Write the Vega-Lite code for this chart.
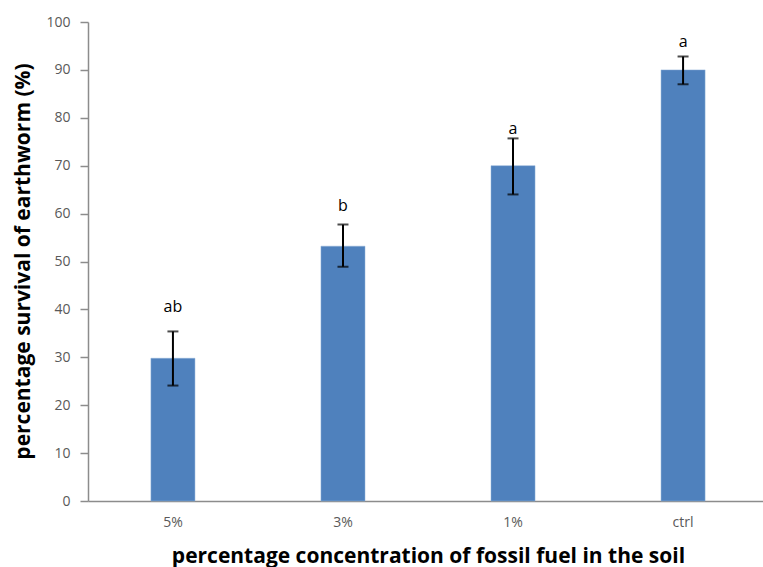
{
  "$schema": "https://vega.github.io/schema/vega-lite/v6.json",
  "autosize": {"type": "none"},
  "padding": {"left": 88, "top": 22, "right": 0, "bottom": 66},
  "width": 680,
  "height": 479,
  "background": "white",
  "config": {"view": {"stroke": null}},
  "data": {"values": [
    {"treatment": "5%", "survival": 29.8, "lo": 24.1, "hi": 35.4, "letter": "ab", "letter_at": 40.6},
    {"treatment": "3%", "survival": 53.2, "lo": 48.9, "hi": 57.7, "letter": "b", "letter_at": 61.5},
    {"treatment": "1%", "survival": 70.0, "lo": 64.0, "hi": 75.7, "letter": "a", "letter_at": 77.6},
    {"treatment": "ctrl", "survival": 90.0, "lo": 87.0, "hi": 92.8, "letter": "a", "letter_at": 95.8}
  ]},
  "encoding": {
    "x": {
      "field": "treatment", "type": "nominal", "sort": null,
      "scale": {"paddingInner": 0.741, "paddingOuter": 0.37},
      "axis": {
        "title": "percentage concentration of fossil fuel in the soil",
        "titleFont": "Open Sans", "titleFontSize": 21, "titleFontWeight": "bold", "titleColor": "#000000",
        "titleY": 55, "titleBaseline": "middle",
        "labelAngle": 0, "labelFont": "Open Sans", "labelFontSize": 14, "labelColor": "#595959",
        "labelPadding": 14, "ticks": false, "domainColor": "#8c8c8c", "domainWidth": 1.5, "grid": false
      }
    }
  },
  "layer": [
    {
      "mark": {"type": "bar", "color": "#4F81BD", "stroke": "#8fb0d8", "strokeWidth": 0.5},
      "encoding": {
        "y": {
          "field": "survival", "type": "quantitative",
          "scale": {"domain": [0, 100], "nice": false},
          "axis": {
            "title": "percentage survival of earthworm (%)",
            "titleFont": "Open Sans", "titleFontSize": 21, "titleFontWeight": "bold", "titleColor": "#000000",
            "titleX": -65, "titleY": 239, "titleAlign": "center", "titleBaseline": "middle",
            "values": [0, 10, 20, 30, 40, 50, 60, 70, 80, 90, 100],
            "labelFont": "Open Sans", "labelFontSize": 14, "labelColor": "#595959",
            "labelPadding": 10, "tickSize": 8, "tickColor": "#8c8c8c", "tickWidth": 1.5,
            "domainColor": "#8c8c8c", "domainWidth": 1.5, "grid": false
          }
        }
      }
    },
    {
      "mark": {"type": "rule", "color": "#000000", "strokeWidth": 2},
      "encoding": {
        "y": {"field": "lo", "type": "quantitative"},
        "y2": {"field": "hi"}
      }
    },
    {
      "mark": {"type": "tick", "color": "#000000", "thickness": 2, "size": 11, "orient": "horizontal"},
      "encoding": {"y": {"field": "lo", "type": "quantitative"}}
    },
    {
      "mark": {"type": "tick", "color": "#000000", "thickness": 2, "size": 11, "orient": "horizontal"},
      "encoding": {"y": {"field": "hi", "type": "quantitative"}}
    },
    {
      "mark": {"type": "text", "font": "Open Sans", "fontSize": 16, "color": "#000000", "baseline": "middle"},
      "encoding": {
        "y": {"field": "letter_at", "type": "quantitative"},
        "text": {"field": "letter"}
      }
    }
  ]
}
